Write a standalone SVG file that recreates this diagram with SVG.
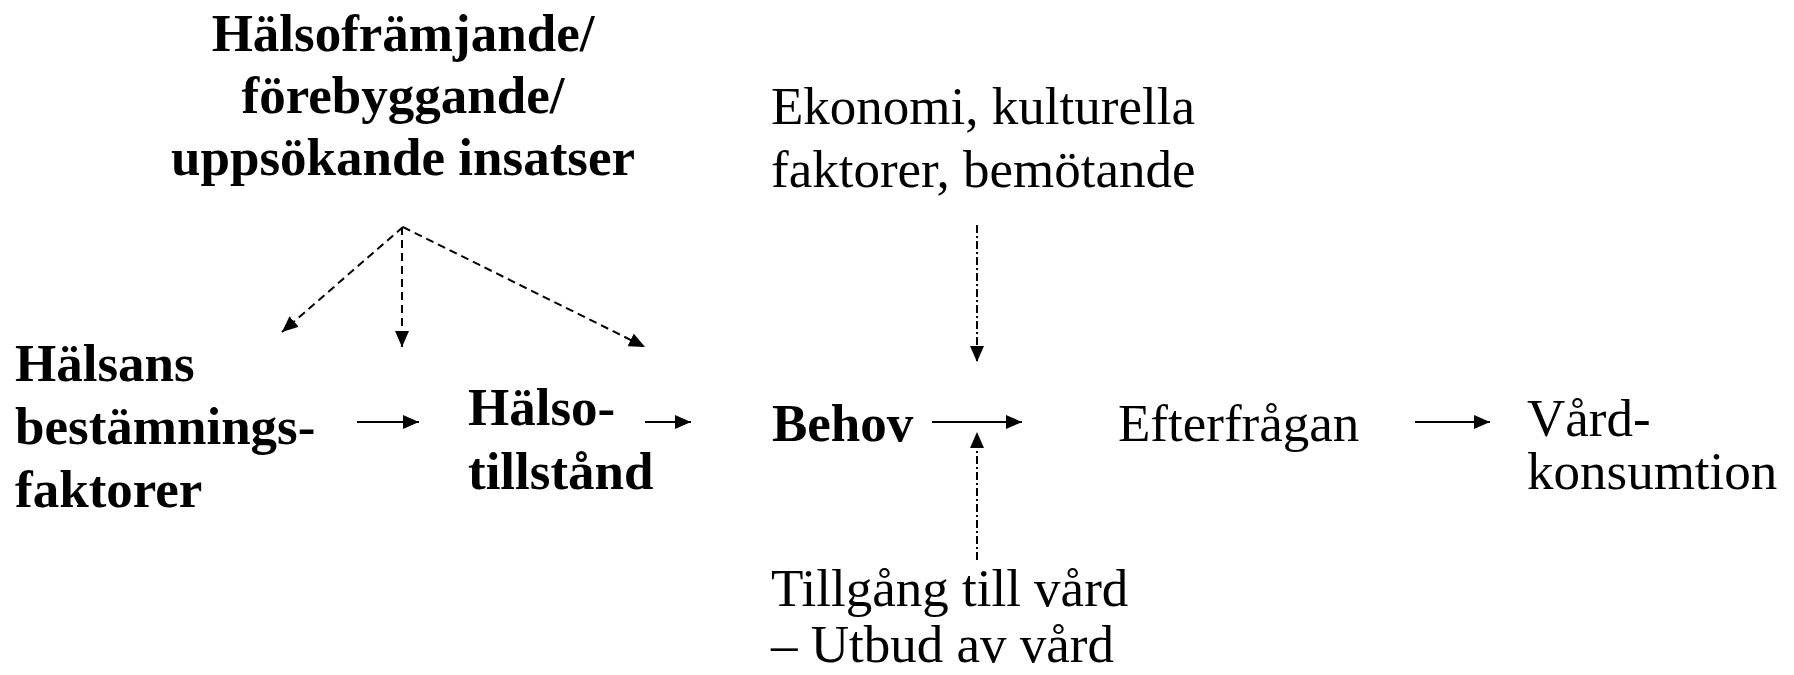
<svg xmlns="http://www.w3.org/2000/svg" width="1794" height="675" viewBox="0 0 1794 675">
<defs>
<style>
text{font-family:"Liberation Serif","Times New Roman",serif;font-size:53px;fill:#000}
.b{font-weight:bold}
.ln{stroke:#000;stroke-width:2;fill:none}
.dash{stroke-dasharray:8 5}
.dd{stroke-dasharray:8 3 2 3}
</style>
<marker id="ah" markerUnits="userSpaceOnUse" markerWidth="16" markerHeight="14" refX="16" refY="7" orient="auto">
<path d="M0,0 L16,7 L0,14 z" fill="#000"/>
</marker>
</defs>
<rect width="1794" height="675" fill="#fff"/>
<g id="title">
<text class="b" x="403" y="51" text-anchor="middle">Hälsofrämjande/</text>
<text class="b" x="403" y="113" text-anchor="middle">förebyggande/</text>
<text class="b" x="403" y="175" text-anchor="middle">uppsökande insatser</text>
</g>
<g id="halsans">
<text class="b" x="15" y="381">Hälsans</text>
<text class="b" x="15" y="444">bestämnings-</text>
<text class="b" x="15" y="507">faktorer</text>
</g>
<g id="halsotillstand">
<text class="b" x="468" y="425">Hälso-</text>
<text class="b" x="468" y="489">tillstånd</text>
</g>
<g id="behov">
<text class="b" x="772" y="441">Behov</text>
</g>
<g id="efterfragan">
<text x="1118" y="441">Efterfrågan</text>
</g>
<g id="vardkonsumtion">
<text x="1527" y="436">Vård-</text>
<text x="1527" y="489">konsumtion</text>
</g>
<g id="ekonomi">
<text x="771" y="124">Ekonomi, kulturella</text>
<text x="771" y="187">faktorer, bemötande</text>
</g>
<g id="tillgang">
<text x="771" y="606">Tillgång till vård</text>
<text x="771" y="662">– Utbud av vård</text>
</g>
<g id="connectors">
<line class="ln dash" x1="403" y1="227" x2="282" y2="332" marker-end="url(#ah)"/>
<line class="ln dash" x1="402" y1="227" x2="402" y2="347" marker-end="url(#ah)"/>
<line class="ln dash" x1="403" y1="227" x2="645" y2="347" marker-end="url(#ah)"/>
<line class="ln" x1="357" y1="422" x2="419" y2="422" marker-end="url(#ah)"/>
<line class="ln" x1="645" y1="422" x2="691" y2="422" marker-end="url(#ah)"/>
<line class="ln" x1="932" y1="422" x2="1022" y2="422" marker-end="url(#ah)"/>
<line class="ln" x1="1415" y1="422" x2="1490" y2="422" marker-end="url(#ah)"/>
<line class="ln dd" x1="977" y1="225" x2="977" y2="362" marker-end="url(#ah)"/>
<line class="ln dd" x1="977" y1="560" x2="977" y2="432" marker-end="url(#ah)"/>
</g>
</svg>
